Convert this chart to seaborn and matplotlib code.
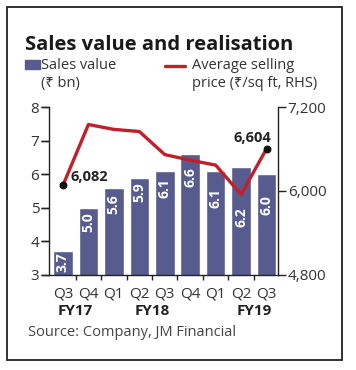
import numpy as np
import pandas as pd
import matplotlib
matplotlib.use("Agg")
import matplotlib.pyplot as plt
import matplotlib.patches as mpatches
import matplotlib.lines as mlines
from matplotlib.ticker import FuncFormatter
import seaborn as sns

# data
quarters = ["Q3", "Q4", "Q1", "Q2", "Q3", "Q4", "Q1", "Q2", "Q3"]
fiscal_years = ["FY17", "FY18", "FY19"]
fy_positions = [0.5, 3.5, 7.5]
sales_value = [3.7, 5.0, 5.6, 5.9, 6.1, 6.6, 6.1, 6.2, 6.0]
avg_price = [6082, 6950, 6880, 6850, 6520, 6440, 6370, 5950, 6604]

# label offsets below bar top (pixels)
label_drop = [1, 4, 7, 5, 7, 13, 17, 40, 21]

bar_color = "#585b8d"
line_color = "#c1202b"
text_color = "#333333"

sns.set_theme(style="ticks")
plt.rcParams["font.family"] = ["Open Sans", "Noto Sans", "DejaVu Sans"]
plt.rcParams.update({
    "xtick.bottom": True, "ytick.left": True,
    "xtick.color": "#222222", "ytick.color": "#222222",
    "xtick.labelcolor": text_color, "ytick.labelcolor": text_color,
    "xtick.labelsize": 11, "ytick.labelsize": 11,
    "xtick.major.size": 0, "xtick.minor.size": 3.5,
    "xtick.major.width": 1, "xtick.minor.width": 1,
    "ytick.major.size": 5.5, "ytick.major.width": 1,
    "xtick.major.pad": 8, "ytick.major.pad": 1.5,
    "axes.edgecolor": "#222222", "axes.linewidth": 1,
})

pos = [0.1376, 0.2568, 0.6433, 0.454]
xlim = (-0.55, 8.45)

fig = plt.figure(figsize=(3.56, 3.70), dpi=100)
ax = fig.add_axes(pos)

df = pd.DataFrame({"pos": range(len(quarters)), "sales": sales_value})
sns.barplot(data=df, x="pos", y="sales", color=bar_color, saturation=1,
            width=0.77, ax=ax, native_scale=True)
ax.set_xlim(*xlim)
ax.set_ylim(3, 8)
ax.set_xlabel("")
ax.set_ylabel("")
ax.tick_params(which="both", left=False, bottom=False, labelleft=False, labelbottom=False)
for s in ax.spines.values():
    s.set_visible(False)

# bar labels
for i, v in enumerate(sales_value):
    ax.annotate(f"{v:.1f}", xy=(i, v), xytext=(0, -label_drop[i]),
                textcoords="offset pixels", rotation=90, ha="center", va="top",
                color="white", fontsize=10, fontweight="bold")

for fy, p in zip(fiscal_years, fy_positions):
    ax.text(p, -0.215, fy, transform=ax.get_xaxis_transform(), ha="center",
            va="center", fontsize=11, fontweight="bold", color="#222222")

# price line on the right axis
ax2 = ax.twinx()
sns.lineplot(x=np.arange(len(avg_price)), y=avg_price, ax=ax2, color=line_color,
             linewidth=2.4)
ax2.set_ylim(4800, 7200)
ax2.set_yticks([4800, 6000, 7200])
ax2.yaxis.set_major_formatter(FuncFormatter(lambda v, p: f"{int(v):,}"))
ax2.set_ylabel("")
for s in ("top", "left", "bottom"):
    ax2.spines[s].set_visible(False)

ax2.scatter([0, len(avg_price) - 1], [avg_price[0], avg_price[-1]], color="#111111",
            s=22, zorder=5)
ax2.annotate(f"{avg_price[0]:,}", xy=(0, avg_price[0]), xytext=(8, 8),
             textcoords="offset pixels", ha="left", va="center", fontsize=10.5,
             fontweight="bold", color="#222222")
ax2.annotate(f"{avg_price[-1]:,}", xy=(len(avg_price) - 1, avg_price[-1]),
             xytext=(5, 7), textcoords="offset pixels", ha="right", va="baseline",
             fontsize=10.5, fontweight="bold", color="#222222")

# left axis and category axis drawn on a clean overlay so the tick marks show
ax3 = fig.add_axes(pos)
ax3.patch.set_visible(False)
ax3.set_xlim(*xlim)
ax3.set_ylim(3, 8)
ax3.set_yticks([3, 4, 5, 6, 7, 8])
ax3.set_xticks(range(len(quarters)))
ax3.set_xticklabels(quarters)
ax3.set_xticks(np.arange(0.5, len(quarters) - 1, 1.0), minor=True)
ax3.spines["top"].set_visible(False)
ax3.spines["right"].set_visible(False)

# title, legend, source
fig.text(25 / 356, 1 - 50 / 370, "Sales value and realisation", fontsize=14.5,
         fontweight="bold", color="#1a1a1a", va="baseline", ha="left")
fig.patches.append(mpatches.Rectangle((25 / 356, 1 - 69 / 370), 15 / 356, 9 / 370,
                                      transform=fig.transFigure, color=bar_color))
fig.text(41 / 356, 1 - 69 / 370, "Sales value", fontsize=10.5, color=text_color, va="baseline")
fig.text(41 / 356, 1 - 87 / 370, "(\u20b9 bn)", fontsize=10.5, color=text_color, va="baseline")
fig.lines.append(mlines.Line2D([165 / 356, 185 / 356], [1 - 66 / 370, 1 - 66 / 370],
                               transform=fig.transFigure, color=line_color, linewidth=2.4))
fig.text(192 / 356, 1 - 69 / 370, "Average selling", fontsize=10.5, color=text_color,
         va="baseline")
fig.text(192 / 356, 1 - 87 / 370, "price (\u20b9/sq ft, RHS)", fontsize=10.5,
         color=text_color, va="baseline")
fig.text(28 / 356, 1 - 332 / 370, "Source: Company, JM Financial", fontsize=10.5,
         color="#444444", va="center")

# outer frame
fig.patches.append(mpatches.Rectangle((7 / 356, 1 - 360 / 370), 334.5 / 356, 353 / 370,
                                      transform=fig.transFigure, fill=False,
                                      edgecolor="#222222", linewidth=1.3))

fig.savefig("out.png", dpi=100)
